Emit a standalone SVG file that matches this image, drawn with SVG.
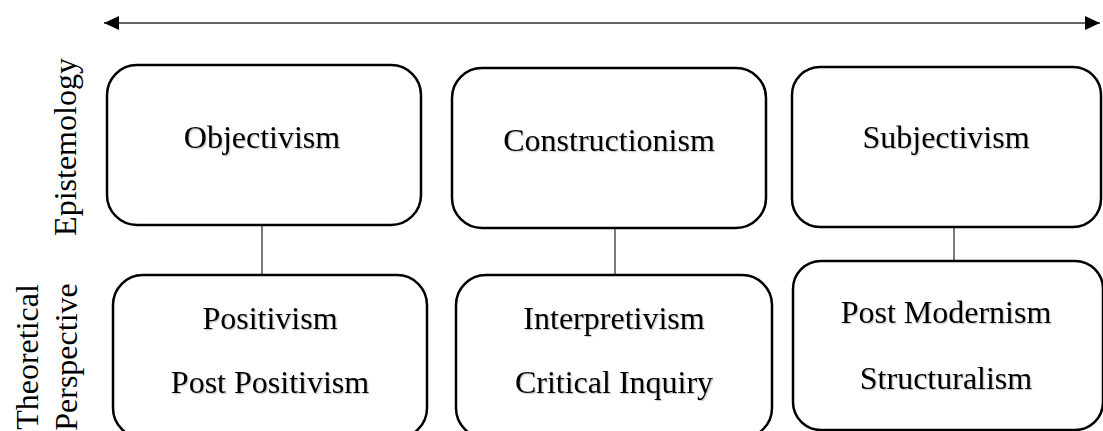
<svg xmlns="http://www.w3.org/2000/svg" width="1103" height="431" viewBox="0 0 1103 431">
<style>
.box{fill:#fff;stroke:#000;stroke-width:2.5}
.t{font-family:"Liberation Serif","Times New Roman",serif;font-size:32px;fill:#000;text-anchor:middle;dominant-baseline:central;filter:url(#sh)}
.lbl{font-family:"Liberation Serif","Times New Roman",serif;font-size:32px;fill:#000;text-anchor:middle;dominant-baseline:central}
.con{stroke:#333;stroke-width:1.3;fill:none}
</style>
<defs>
<filter id="sh" x="-10%" y="-30%" width="120%" height="160%">
<feDropShadow dx="1.2" dy="1.2" stdDeviation="0.6" flood-color="#000" flood-opacity="0.22"/>
</filter>
<marker id="ah" markerWidth="16" markerHeight="14" refX="15" refY="7" orient="auto-start-reverse" markerUnits="userSpaceOnUse">
<path d="M0,0 L15,7 L0,14 Z" fill="#000"/>
</marker>
</defs>
<g id="connectors">
<line class="con" x1="104" y1="23" x2="1100" y2="23" stroke="#444" marker-start="url(#ah)" marker-end="url(#ah)"/>
<line class="con" x1="262" y1="225" x2="262" y2="275"/>
<line class="con" x1="615" y1="228" x2="615" y2="275"/>
<line class="con" x1="954" y1="227" x2="954" y2="261"/>
</g>
<g id="label-epistemology"><text class="lbl" transform="translate(65,147) rotate(-90)">Epistemology</text></g>
<g id="label-theoretical"><text class="lbl" transform="translate(27,357) rotate(-90)">Theoretical</text><text class="lbl" transform="translate(66,357) rotate(-90)">Perspective</text></g>
<g id="objectivism"><rect class="box" x="107" y="65" width="314" height="160" rx="30"/><text class="t" x="262" y="137">Objectivism</text></g>
<g id="constructionism"><rect class="box" x="452" y="68" width="314" height="160" rx="30"/><text class="t" x="609" y="140">Constructionism</text></g>
<g id="subjectivism"><rect class="box" x="792" y="67" width="309" height="160" rx="28"/><text class="t" x="946" y="137">Subjectivism</text></g>
<g id="positivism"><rect class="box" x="113" y="275" width="314" height="163" rx="30"/><text class="t" x="270" y="318">Positivism</text><text class="t" x="270" y="382">Post Positivism</text></g>
<g id="interpretivism"><rect class="box" x="456" y="275" width="316" height="163" rx="30"/><text class="t" x="614" y="318">Interpretivism</text><text class="t" x="614" y="382">Critical Inquiry</text></g>
<g id="postmodernism"><rect class="box" x="793" y="261" width="310" height="169" rx="28"/><text class="t" x="946" y="312">Post Modernism</text><text class="t" x="946" y="378">Structuralism</text></g>
</svg>
